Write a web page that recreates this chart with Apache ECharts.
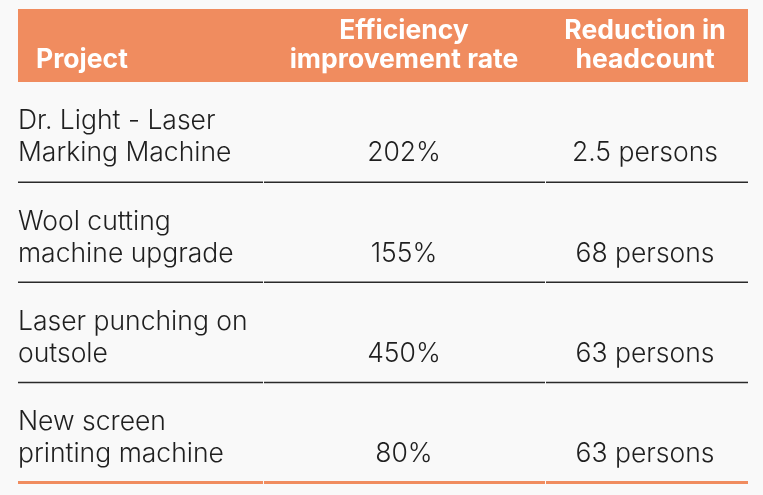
<!DOCTYPE html>
<html><head><meta charset="utf-8">
<style>html,body{margin:0;padding:0;background:#f9f9f9;}#c{width:763px;height:495px;}</style>
<script src="https://cdn.jsdelivr.net/npm/echarts@6/dist/echarts.min.js"></script>
</head><body><div id="c"></div>
<script>
var headers = ['Project', 'Efficiency\nimprovement rate', 'Reduction in\nheadcount'];
var projects = ['Dr. Light - Laser\nMarking Machine', 'Wool cutting\nmachine upgrade', 'Laser punching on\noutsole', 'New screen\nprinting machine'];
var efficiency = ['202%', '155%', '450%', '80%'];
var headcount = ['2.5 persons', '68 persons', '63 persons', '63 persons'];

var ORANGE = '#f08c5f';
var TEXT = '#1f1f1f';
var FONT = 'Inter, "Noto Sans", sans-serif';
// column geometry as fractions of the table width (layout, not data)
var L = 18, R = 748, W = R - L;
var colBreaks = [(263 - L) / W, (545 - L) / W];
var colCenters = [0, (404 - L) / W, (645 - L) / W];

var chart = echarts.init(document.getElementById('c'), null, {renderer: 'canvas'});

function renderRow(params, api) {
  var idx = api.value(0);
  var c = api.coord([0, idx]);
  var bandH = api.size([0, 1])[1];
  var top = c[1] - bandH / 2;
  var bottom = c[1] + bandH / 2;
  var gx = params.coordSys.x, gw = params.coordSys.width;
  var isLast = idx === projects.length - 1;
  var body = '300 26.5px ' + FONT;
  var children = [
    {type: 'text', style: {x: gx, y: top + 55.5, text: projects[idx], fill: TEXT, font: body, lineHeight: 32, align: 'left', verticalAlign: 'middle'}},
    {type: 'text', style: {x: gx + gw * colCenters[1], y: top + 71.5, text: efficiency[idx], fill: TEXT, font: body, align: 'center', verticalAlign: 'middle'}},
    {type: 'text', style: {x: gx + gw * colCenters[2], y: top + 71.5, text: headcount[idx], fill: TEXT, font: body, align: 'center', verticalAlign: 'middle'}}
  ];
  var segs = [[0, colBreaks[0]], [colBreaks[0], colBreaks[1]], [colBreaks[1], 1]];
  segs.forEach(function (s, i) {
    children.push({type: 'line', shape: {x1: gx + gw * s[0] + (i ? 1 : 0), y1: bottom, x2: gx + gw * s[1], y2: bottom},
      style: {stroke: isLast ? ORANGE : '#2a2a2a', lineWidth: isLast ? 3 : 1.5}});
  });
  return {type: 'group', children: children};
}

function renderHeader(params, api) {
  var c = api.coord([0, 0]);
  var bandH = api.size([0, 1])[1];
  var top = c[1] - bandH / 2;
  var gx = params.coordSys.x, gw = params.coordSys.width;
  var bold = '700 26.5px ' + FONT;
  return {type: 'group', children: [
    {type: 'rect', shape: {x: gx, y: top, width: gw, height: bandH}, style: {fill: ORANGE}},
    {type: 'text', style: {x: gx + 18, y: top + 51, text: headers[0], fill: '#ffffff', font: bold, align: 'left', verticalAlign: 'middle'}},
    {type: 'text', style: {x: gx + gw * colCenters[1], y: top + 36.5, text: headers[1], fill: '#ffffff', font: bold, lineHeight: 29, align: 'center', verticalAlign: 'middle'}},
    {type: 'text', style: {x: gx + gw * colCenters[2], y: top + 36.5, text: headers[2], fill: '#ffffff', font: bold, lineHeight: 29, align: 'center', verticalAlign: 'middle'}}
  ]};
}

chart.setOption({
  backgroundColor: '#f9f9f9',
  animation: false,
  grid: [
    {left: L, right: 763 - R, top: 9, height: 73},
    {left: L, right: 763 - R, top: 82, height: 400.5}
  ],
  xAxis: [
    {gridIndex: 0, type: 'value', min: 0, max: 1, show: false},
    {gridIndex: 1, type: 'value', min: 0, max: 1, show: false}
  ],
  yAxis: [
    {gridIndex: 0, type: 'category', data: ['header'], inverse: true, show: false},
    {gridIndex: 1, type: 'category', data: projects, inverse: true, show: false}
  ],
  series: [
    {type: 'custom', xAxisIndex: 0, yAxisIndex: 0, renderItem: renderHeader, data: [[0]], silent: true},
    {type: 'custom', xAxisIndex: 1, yAxisIndex: 1, renderItem: renderRow, data: projects.map(function (p, i) { return [i]; }), silent: true}
  ]
});
</script></body></html>
